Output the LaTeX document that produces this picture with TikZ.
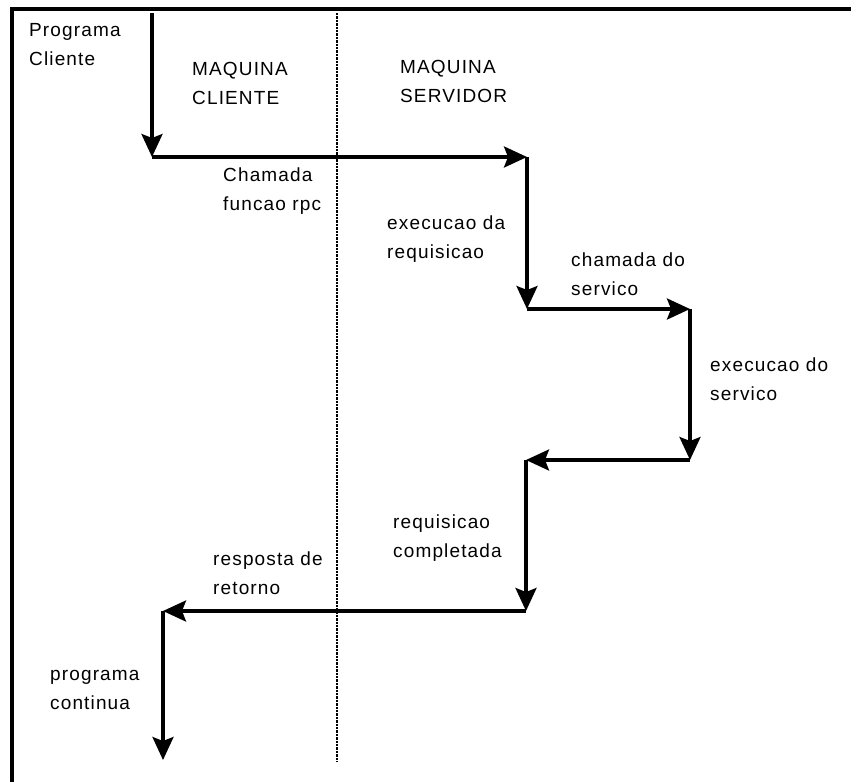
\documentclass[tikz,border=0pt]{standalone}
\usepackage{fontspec}
\setmainfont{Liberation Sans}[LetterSpace=6]
\usetikzlibrary{arrows.meta}

\tikzset{
  lbl/.style={anchor=base west, inner sep=0pt, align=left,
    font=\fontsize{19}{28.5}\selectfont},
  flow/.style={line width=3.3pt, -{Stealth[length=23pt,width=21pt,inset=4pt]}},
}

\begin{document}
\begin{tikzpicture}[x=1pt,y=-1pt]
 \useasboundingbox (0,0) rectangle (851,782);

 \draw[line width=3.8pt] (12,782) |- (851,9); % frame
 \draw[line width=2.8pt, dash pattern=on 2.4pt off 1pt] (337,13) -- (337,762); % client | server

 \coordinate (a0) at (152,13);
 \coordinate (a1) at (152,157);
 \coordinate (a2) at (527,157);
 \coordinate (a3) at (527,309);
 \coordinate (a4) at (690,309);
 \coordinate (a5) at (690,460);
 \coordinate (a6) at (526,460);
 \coordinate (a7) at (526,611);
 \coordinate (a8) at (163,611);
 \coordinate (a9) at (163,760);

 \draw[flow] (a0) -- (a1);
 \draw[flow] (a1) -- (a2);
 \draw[flow] (a2) -- (a3);
 \draw[flow] (a3) -- (a4);
 \draw[flow] (a4) -- (a5);
 \draw[flow] (a5) -- (a6);
 \draw[flow] (a6) -- (a7);
 \draw[flow] (a7) -- (a8);
 \draw[flow] (a8) -- (a9);

 % base anchor sits on the last line
 \node[lbl] (prog) at (29,65) {Programa\\Cliente};
 \node[lbl] (mcli) at (192,104) {MAQUINA\\CLIENTE};
 \node[lbl] (msrv) at (400,102) {MAQUINA\\SERVIDOR};
 \node[lbl] (rpc) at (223,210) {Chamada\\funcao rpc};
 \node[lbl] (exreq) at (387,258) {execucao da\\requisicao};
 \node[lbl] (chsrv) at (571,295) {chamada do\\servico};
 \node[lbl] (exsrv) at (710,400) {execucao do\\servico};
 \node[lbl] (reqok) at (393,557) {requisicao\\completada};
 \node[lbl] (resp) at (213,594) {resposta de\\retorno};
 \node[lbl] (cont) at (50,709) {programa\\continua};

\end{tikzpicture}
\end{document}
